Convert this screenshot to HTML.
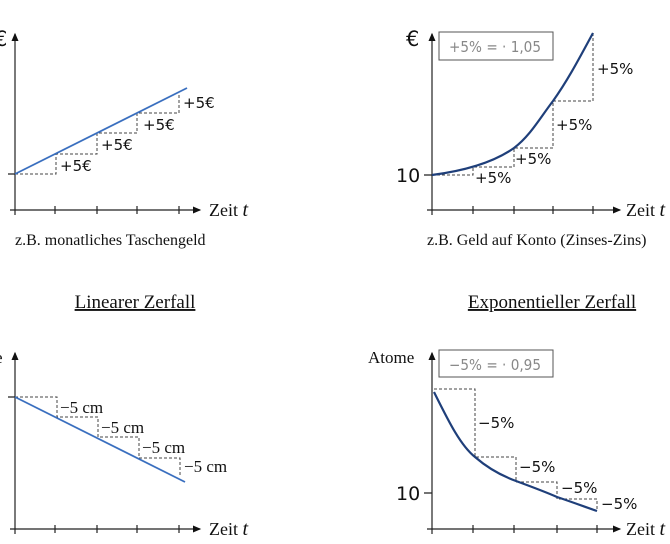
<!DOCTYPE html>
<html><head><meta charset="utf-8"><style>
html,body{margin:0;padding:0;background:#fff;width:670px;height:544px;overflow:hidden}
svg{display:block}
.s{font-family:"Liberation Serif",serif;fill:#111}
.a{font-family:"DejaVu Sans","Liberation Sans",sans-serif;fill:#111}
</style></head><body>
<svg width="670" height="544" viewBox="0 0 670 544" xmlns="http://www.w3.org/2000/svg">
<defs><marker id="ar" markerWidth="8" markerHeight="8" refX="6" refY="4" orient="auto"><path d="M0,1 L7,4 L0,7 z" fill="#111"/></marker></defs>
<g stroke="#222" stroke-width="1.2" fill="none">
<line x1="15" y1="215" x2="15" y2="34" marker-end="url(#ar)"/>
<line x1="10" y1="210" x2="200" y2="210" marker-end="url(#ar)"/>
<path d="M55,206v8M97,206v8M137,206v8M179,206v8M8,174h7"/>
<line x1="432" y1="215" x2="432" y2="34" marker-end="url(#ar)"/>
<line x1="427" y1="210" x2="620" y2="210" marker-end="url(#ar)"/>
<path d="M473,206v8M514,206v8M553,206v8M593,206v8M424,175h8"/>
<line x1="15" y1="534" x2="15" y2="353" marker-end="url(#ar)"/>
<line x1="10" y1="529" x2="200" y2="529" marker-end="url(#ar)"/>
<path d="M55,525v8M97,525v8M137,525v8M179,525v8M8,397h7"/>
<line x1="432" y1="534" x2="432" y2="353" marker-end="url(#ar)"/>
<line x1="427" y1="529" x2="620" y2="529" marker-end="url(#ar)"/>
<path d="M473,525v8M514,525v8M557,525v8M597,525v8M424,493h8"/>
</g>
<g stroke="#444" stroke-width="1" stroke-dasharray="3,2" fill="none">
<path d="M15,174H56V154H97V133H137V113H179V95"/>
<path d="M432,175H473V167H514V148H553V101H593V33"/>
<path d="M15,397H57V417H98V437H139V458H180V476"/>
<path d="M434,389H475V457H516V482H557V499H597V510"/>
</g>
<line x1="15" y1="174" x2="187" y2="88" stroke="#3a6fbf" stroke-width="1.8"/>
<line x1="15" y1="397" x2="185" y2="482" stroke="#3a6fbf" stroke-width="1.8"/>
<path d="M432,175 C455,172 490,165 514,148 C530,136 540,118 553,101 C568,80 580,57 593,33" stroke="#1f3f7a" stroke-width="2.2" fill="none"/>
<path d="M434,392 C448,420 460,445 475,457 C490,470 505,477 516,481 C535,488 548,493 557,497 C575,503 588,508 597,511" stroke="#1f3f7a" stroke-width="2.2" fill="none"/>
<rect x="439" y="32" width="114" height="28" fill="#fff" stroke="#555" stroke-width="1"/>
<rect x="439" y="350" width="114" height="27" fill="#fff" stroke="#555" stroke-width="1"/>
<g class="a" font-size="15">
<text x="60" y="171">+5€</text><text x="101" y="150">+5€</text><text x="143" y="130">+5€</text><text x="183" y="108">+5€</text>
<text x="475" y="183">+5%</text><text x="515" y="164">+5%</text><text x="556" y="130">+5%</text><text x="597" y="74">+5%</text>
<text x="478" y="428">−5%</text><text x="519" y="472">−5%</text><text x="561" y="493">−5%</text><text x="601" y="509">−5%</text>
<text x="449" y="52" style="fill:#888" font-size="15" textLength="92" lengthAdjust="spacingAndGlyphs">+5% = · 1,05</text>
<text x="449" y="370" style="fill:#888" font-size="15" textLength="92" lengthAdjust="spacingAndGlyphs">−5% = · 0,95</text>
<text x="396" y="182" font-size="19">10</text>
<text x="396" y="500" font-size="19">10</text>
<text x="406" y="46" font-size="21">€</text>
<text x="-6" y="46" font-size="21">€</text>
</g>
<g class="s" font-size="17">
<text x="60" y="413">−5 cm</text><text x="101" y="433">−5 cm</text><text x="142" y="453">−5 cm</text><text x="184" y="472">−5 cm</text>
<text x="209" y="216" font-size="18">Zeit <tspan font-style="italic" font-size="20">t</tspan></text>
<text x="626" y="216" font-size="18">Zeit <tspan font-style="italic" font-size="20">t</tspan></text>
<text x="209" y="535" font-size="18">Zeit <tspan font-style="italic" font-size="20">t</tspan></text>
<text x="626" y="535" font-size="18">Zeit <tspan font-style="italic" font-size="20">t</tspan></text>
<text x="15" y="245" font-size="16">z.B. monatliches Taschengeld</text>
<text x="427" y="245" font-size="16">z.B. Geld auf Konto (Zinses-Zins)</text>
<text x="368" y="363" font-size="17">Atome</text>
<text x="-5" y="363">e</text>
<text x="135" y="308" font-size="19" text-anchor="middle" text-decoration="underline">Linearer Zerfall</text>
<text x="552" y="308" font-size="19" text-anchor="middle" text-decoration="underline">Exponentieller Zerfall</text>
</g>
</svg>
</body></html>
